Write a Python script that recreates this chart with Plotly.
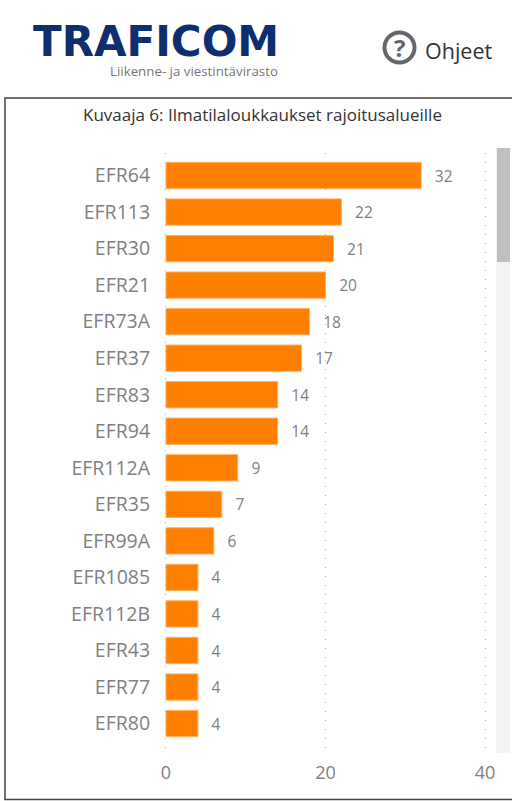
import plotly.graph_objects as go

categories = ["EFR64", "EFR113", "EFR30", "EFR21", "EFR73A", "EFR37", "EFR83", "EFR94",
              "EFR112A", "EFR35", "EFR99A", "EFR1085", "EFR112B", "EFR43", "EFR77", "EFR80"]
values = [32, 22, 21, 20, 18, 17, 14, 14, 9, 7, 6, 4, 4, 4, 4, 4]
x_ticks = [0, 20, 40]
chart_title = "Kuvaaja 6: Ilmatilaloukkaukset rajoitusalueille"

W, H = 512, 801
L, R, T, B = 164, 25, 153, 46
FONT = "Open Sans"

fig = go.Figure(go.Bar(
    x=values, y=categories, orientation="h",
    marker=dict(color="#FF7F00", line=dict(color="#FFB060", width=1)),
    width=0.72,
    texttemplate="\u00a0\u00a0\u2009%{x}", textposition="outside",
    textfont=dict(family=FONT, size=15.5, color="#808080"),
    cliponaxis=False, hoverinfo="skip",
))


def px(x):
    return (x - L) / (W - L - R)


def py(y):
    return 1 - (y - T) / (H - T - B)


shapes = [
    dict(type="rect", xref="paper", yref="paper", x0=px(5), x1=px(520), y0=py(98), y1=py(799.5),
         line=dict(color="#444444", width=1.5), fillcolor="rgba(0,0,0,0)", layer="below"),
    dict(type="rect", xref="paper", yref="paper", x0=px(496), x1=px(510), y0=py(148), y1=py(753),
         line=dict(width=0), fillcolor="#F3F3F3", layer="below"),
    dict(type="rect", xref="paper", yref="paper", x0=px(497), x1=px(510), y0=py(148), y1=py(262),
         line=dict(width=0), fillcolor="#C0C0C0", layer="below"),
    dict(type="circle", xref="paper", yref="paper", x0=px(384.5), x1=px(414.5), y0=py(32.5), y1=py(62.5),
         line=dict(color="#666666", width=4), fillcolor="rgba(0,0,0,0)"),
]

annotations = [
    dict(text="<b>TRAFICOM</b>", x=px(155.5), y=py(41), font=dict(family="DejaVu Sans", size=42, color="#0F2E6E")),
    dict(text="Liikenne- ja viestintävirasto", x=px(194), y=py(71), font=dict(family=FONT, size=13.3, color="#777777")),
    dict(text="<b>?</b>", x=px(399.5), y=py(47.5), font=dict(family=FONT, size=24, color="#666666")),
    dict(text="Ohjeet", x=px(458), y=py(51), font=dict(family=FONT, size=21.5, color="#333333")),
    dict(text=chart_title, x=px(262), y=py(114), font=dict(family=FONT, size=17, color="#333333")),
]
for a in annotations:
    a.update(xref="paper", yref="paper", showarrow=False, xanchor="center", yanchor="middle")

fig.update_layout(
    width=W, height=H, autosize=False,
    margin=dict(l=L, r=R, t=T, b=B, pad=0),
    paper_bgcolor="white", plot_bgcolor="white",
    showlegend=False, shapes=shapes, annotations=annotations,
    xaxis=dict(range=[-0.25, 40.25], tickvals=x_ticks, showgrid=True, griddash="1px,8px",
               gridcolor="#AAAAAA", gridwidth=1, zeroline=False, showline=False,
               ticks="outside", ticklen=1, tickcolor="rgba(0,0,0,0)",
               tickfont=dict(family=FONT, size=18, color="#808080")),
    yaxis=dict(categoryorder="array", categoryarray=categories, range=[15.86, -0.616],
               showgrid=False, zeroline=False, showline=False,
               ticks="outside", ticklen=9, tickcolor="rgba(0,0,0,0)",
               tickfont=dict(family=FONT, size=19.5, color="#808080")),
)

fig.write_html("out.html", config={"displayModeBar": False},
               post_script="document.body.style.margin='0';document.documentElement.style.overflow='hidden';")
